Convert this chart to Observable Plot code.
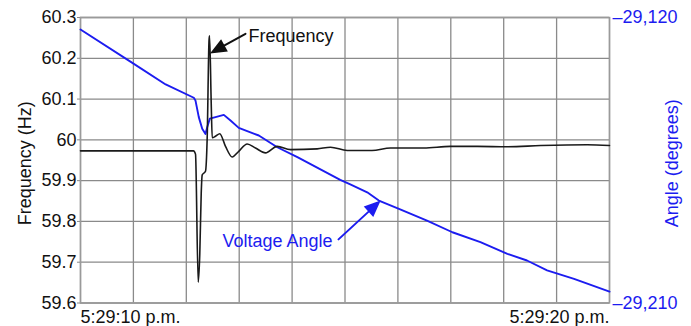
<!DOCTYPE html>
<html>
<head>
<meta charset="utf-8">
<script src="https://cdn.jsdelivr.net/npm/d3@7"></script>
<script src="https://cdn.jsdelivr.net/npm/@observablehq/plot@0.6"></script>
<style>
  body { margin: 0; background: #fff; }
  #chart svg { display: block; }
</style>
</head>
<body>
<div id="chart"></div>
<script>
// ---- Data (seconds after 5:29:00 p.m.) ----
const freqTime = [10, 12.136, 12.174, 12.225, 12.255, 12.282, 12.301, 12.363, 12.395, 12.43, 12.44, 12.471, 12.49, 12.552, 12.633, 12.741, 12.868, 12.992, 13.151, 13.308, 13.497, 13.718, 13.97, 14.474, 14.726, 15.042, 15.51, 15.86, 16.49, 16.99, 17.5, 18.07, 18.7, 19.58, 20];
const freqHz   = [59.973, 59.973, 59.965, 59.651, 59.721, 59.869, 59.914, 59.923, 60.005, 60.245, 60.255, 60.09, 60.005, 60.009, 60.015, 59.984, 59.958, 59.972, 59.99, 59.98, 59.968, 59.984, 59.976, 59.978, 59.982, 59.974, 59.974, 59.98, 59.98, 59.984, 59.984, 59.983, 59.986, 59.988, 59.986];

const angleTime = [10, 10.98, 11.61, 12.142, 12.174, 12.236, 12.301, 12.363, 12.395, 12.444, 12.552, 12.709, 12.836, 12.992, 13.371, 13.72, 14.10, 14.91, 15.10, 15.42, 15.64, 16.02, 16.55, 17.03, 17.56, 18.07, 18.44, 18.82, 19.33, 20];
const angleDeg  = [-29123.8, -29134.3, -29141.1, -29145.3, -29146.2, -29151.4, -29155.1, -29156.7, -29154.6, -29151.9, -29151.4, -29150.7, -29152.5, -29154.8, -29157.2, -29160.9, -29164.0, -29171.2, -29172.6, -29175.1, -29177.7, -29180.3, -29184.0, -29187.7, -29190.8, -29194.5, -29196.6, -29199.7, -29202.4, -29206.4];

const freqTicks   = [59.6, 59.7, 59.8, 59.9, 60, 60.1, 60.2, 60.3];
const angleTicks  = [-29120, -29210];
const timeTicks   = [10, 20];
const timeLabels  = ["5:29:10 p.m.", "5:29:20 p.m."];
const gridSeconds = [10, 11, 12, 13, 14, 15, 16, 17, 18, 19, 20];

const leftTitle  = "Frequency (Hz)";
const rightTitle = "Angle (degrees)";

// annotations: label position and arrow tail/tip (time s, frequency-axis value)
const annoText  = ["Frequency", "Voltage Angle"];
const annoX     = [13.176, 12.684];
const annoY     = [60.2537, 59.751];
const arrowTail = [[13.119, 60.26], [14.877, 59.756]];
const arrowTip  = [[12.49, 60.215], [15.639, 59.847]];

// ---- layout / style ----
const W = 691, H = 326;
const mL = 80, mR = 82, mT = 17, mB = 23.5;
const BLUE = "#1c1cf0";
const FONT = "Liberation Sans, Arial, sans-serif";
const FS = 18;

const fDomain = [59.6, 60.3];
const aDomain = [-29210, -29120];
const angleToF = d3.scaleLinear(aDomain, fDomain);

// mirrors of Plot's scales, used only to orient annotation arrows
const xs = d3.scaleLinear([10, 20], [mL, W - mR]);
const ys = d3.scaleLinear(fDomain, [H - mB, mT]);

const freqData  = freqTime.map((t, i) => ({t, f: freqHz[i]}));
const angleData = angleTime.map((t, i) => ({t, a: angleDeg[i]}));
const annoData  = annoText.map((s, i) => ({s, x: annoX[i], y: annoY[i], color: i === 0 ? "#111" : BLUE}));
const arrowData = arrowTip.map((tip, i) => {
  const tail = arrowTail[i];
  const dx = xs(tip[0]) - xs(tail[0]);
  const dy = ys(tip[1]) - ys(tail[1]);
  return {x: tip[0], y: tip[1], len: Math.hypot(dx, dy), rot: Math.atan2(dx, -dy) * 180 / Math.PI, color: i === 0 ? "#111" : BLUE};
});

const arrowShape = {
  draw(context, l) {
    const h = 13, w = 5.5;
    context.moveTo(0, 0);
    context.lineTo(0, -l + h - 1);
    context.moveTo(0, -l);
    context.lineTo(-w, -l + h);
    context.lineTo(w, -l + h);
    context.closePath();
  }
};

const arrowMark = d => Plot.vector([d], {x: "x", y: "y", length: d.len, rotate: d.rot, anchor: "end", shape: arrowShape, stroke: d.color, fill: d.color, strokeWidth: 2, strokeLinejoin: "miter"});

const fmtAngle = a => "\u2013" + d3.format(",")(Math.abs(a));

const chart = Plot.plot({
  width: W, height: H,
  marginLeft: mL, marginRight: mR, marginTop: mT, marginBottom: mB,
  style: {fontFamily: FONT, fontSize: FS + "px", background: "#fff", color: "#111"},
  x: {domain: [10, 20]},
  y: {domain: fDomain},
  marks: [
    Plot.gridX(gridSeconds, {stroke: "#8a8a8a", strokeOpacity: 1, strokeWidth: 1.3}),
    Plot.gridY(freqTicks, {stroke: "#8a8a8a", strokeOpacity: 1, strokeWidth: 1.3}),
    Plot.frame({stroke: "#9a9a9a", strokeWidth: 1.5}),
    Plot.axisY(freqTicks, {anchor: "left", tickSize: 3, tickPadding: 1, tickFormat: d => String(d), stroke: "#888", fill: "#111", fontSize: FS, label: null}),
    Plot.axisY(angleTicks.map(a => angleToF(a)), {anchor: "right", tickSize: 0, tickPadding: 3, tickFormat: f => fmtAngle(Math.round(angleToF.invert(f))), fill: BLUE, fontSize: FS, label: null}),
    Plot.axisX([timeTicks[0]], {anchor: "bottom", tickSize: 0, tickPadding: 7, tickFormat: () => timeLabels[0], textAnchor: "start", fill: "#111", fontSize: FS, label: null}),
    Plot.axisX([timeTicks[1]], {anchor: "bottom", tickSize: 0, tickPadding: 7, tickFormat: () => timeLabels[1], textAnchor: "end", fill: "#111", fontSize: FS, label: null}),
    Plot.text([leftTitle], {frameAnchor: "left", text: d => d, rotate: -90, textAnchor: "middle", dx: -55, dy: 3, fill: "#111", fontSize: FS}),
    Plot.text([rightTitle], {frameAnchor: "right", text: d => d, rotate: -90, textAnchor: "middle", dx: 63, dy: 3, fill: BLUE, fontSize: FS}),
    Plot.line(angleData, {x: "t", y: d => angleToF(d.a), stroke: BLUE, strokeWidth: 1.9}),
    Plot.line(freqData, {x: "t", y: "f", stroke: "#1a1a1a", strokeWidth: 1.6, curve: "monotone-x"}),
    Plot.text(annoData, {x: "x", y: "y", text: "s", textAnchor: "start", fill: "color", fontSize: FS}),
    arrowMark(arrowData[0]),
    arrowMark(arrowData[1])
  ]
});
document.getElementById("chart").appendChild(chart);
</script>
</body>
</html>
